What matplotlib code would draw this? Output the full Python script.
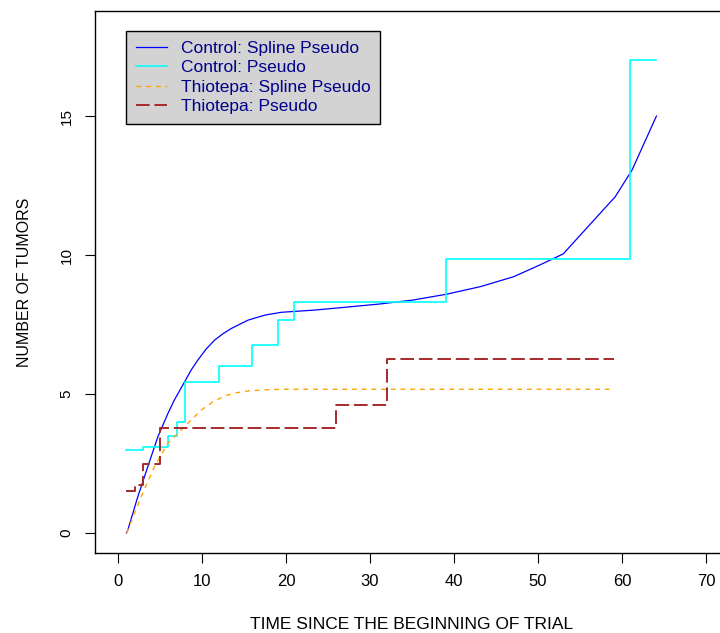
import numpy as np
import matplotlib
matplotlib.use("Agg")
import matplotlib.pyplot as plt

plt.rcParams['font.family'] = ['Liberation Sans', 'DejaVu Sans']

# Control: spline pseudo
ctrl_spline_t = [1, 1.17, 2.36, 3.55, 4.74, 5.94, 6.7, 7.93, 8.7, 9.5, 10.5, 11.5, 12.5, 13.5,
                 15.5, 17.5, 19.45, 23.4, 27, 31.2, 35.1, 39.1, 43.1, 47.1, 50.2, 53.0,
                 59.2, 61.2, 64.1]
ctrl_spline_y = [0, 0.11, 1.31, 2.39, 3.46, 4.30, 4.78, 5.44, 5.86, 6.22, 6.62, 6.94, 7.17, 7.36,
                 7.66, 7.84, 7.94, 8.02, 8.12, 8.24, 8.38, 8.59, 8.86, 9.22, 9.64, 10.04,
                 12.1, 13.06, 15.0]

# Control: pseudo (step)
ctrl_step_t = [1, 3, 6, 7, 8, 12, 16, 19, 21, 39, 61, 64]
ctrl_step_y = [3.0, 3.1, 3.5, 4.0, 5.45, 6.0, 6.75, 7.68, 8.32, 9.84, 17.02, 17.02]

# Thiotepa: spline pseudo
thio_spline_t = [1, 1.1, 2.76, 4.35, 5.94, 7.9, 9.9, 11.3, 12.7, 14, 15.5, 17.5, 19.45, 23.4, 59]
thio_spline_y = [0, 0.05, 1.31, 2.39, 3.23, 3.82, 4.42, 4.72, 4.93, 5.04, 5.11, 5.15, 5.17, 5.17, 5.17]

# Thiotepa: pseudo (step)
thio_step_t = [1, 2, 3, 5, 26, 32, 59]
thio_step_y = [1.51, 1.73, 2.5, 3.77, 4.6, 6.25, 6.25]

fig = plt.figure(figsize=(7.2, 6.33), dpi=100)
ax = fig.add_axes([94.5 / 720, 80 / 633, 635 / 720, 542 / 633])

ax.plot(ctrl_spline_t, ctrl_spline_y, color="blue", lw=0.9, label="Control: Spline Pseudo")
ax.step(ctrl_step_t, ctrl_step_y, where="post", color="cyan", lw=1.2, label="Control: Pseudo")
ax.plot(thio_spline_t, thio_spline_y, color="orange", lw=1.0, dashes=(3.5, 3.5),
        label="Thiotepa: Spline Pseudo")
ax.step(thio_step_t, thio_step_y, where="post", color="brown", lw=1.4, dashes=(7, 2.5),
        label="Thiotepa: Pseudo")

ax.set_xlim(-2.8, 72.8)
ax.set_ylim(-0.72, 18.78)
ax.set_xticks([0, 10, 20, 30, 40, 50, 60, 70])
ax.set_yticks([0, 5, 10, 15])
ax.tick_params(direction="out", length=7, width=0.8, labelsize=11, pad=8)
ax.tick_params(axis="x", labelsize=12)
plt.setp(ax.get_yticklabels(), rotation=90, va="center")
for s in ax.spines.values():
    s.set_linewidth(1.0)

ax.set_xlabel("TIME SINCE THE BEGINNING OF TRIAL", fontsize=12.5, labelpad=20)
ax.set_ylabel("NUMBER OF TUMORS", fontsize=11.5, labelpad=20)

leg = ax.legend(loc="upper left", bbox_to_anchor=(0.0496, 0.963), fontsize=12.5,
                frameon=True, fancybox=False, facecolor="lightgray", edgecolor="black",
                framealpha=1, labelcolor="darkblue", handlelength=1.8,
                handletextpad=0.8, borderpad=0.55, labelspacing=0.25, borderaxespad=0)
leg.get_frame().set_linewidth(1.0)

fig.savefig("out.png", dpi=100)
